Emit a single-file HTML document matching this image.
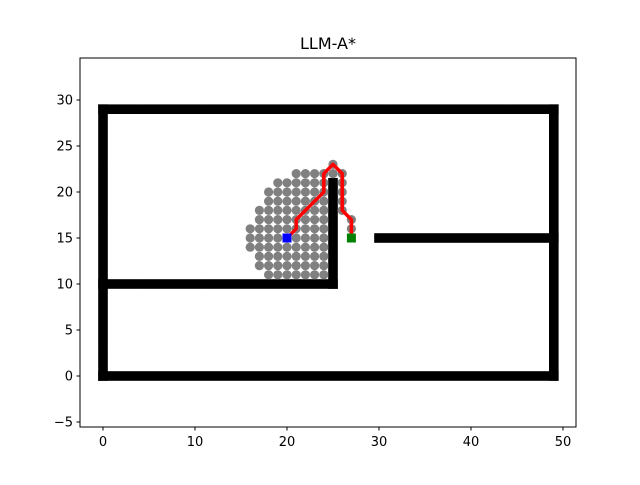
<!DOCTYPE html>
<html><head><meta charset="utf-8"><style>
body{margin:0;background:#fff;}
svg{font-family:"DejaVu Sans","Liberation Sans",sans-serif;}
</style></head><body>
<svg id="chart" width="640" height="480" viewBox="0 0 640 480">
<rect width="640" height="480" fill="#fff"/>
<text x="328" y="49" font-size="16" text-anchor="middle">LLM-A*</text>
<g id="plot"></g>
<rect x="80" y="58" width="496" height="369" fill="none" stroke="#000" stroke-width="1"/>
<g id="ticks"></g>
</svg>
<script>
const xTicks=[0,10,20,30,40,50];
const yTicks=[-5,0,5,10,15,20,25,30];
// visited rows: [y, xStart, xEnd]
const visitedRows=[[11,18,24],[12,17,24],[13,17,24],[14,16,24],[15,16,24],[16,16,24],[17,17,24],[18,17,24],[19,18,24],[20,18,24],[21,19,24],[22,21,24],[23,25,25]];
const visitedExtra=[[26,18],[26,19],[26,20],[26,21],[26,22],[25,22],[27,16],[27,17]];
// obstacle segments: [x1,y1,x2,y2]
const walls=[[0,0,49,0],[0,29,49,29],[0,0,0,29],[49,0,49,29],[0,10,25,10],[25,10,25,21],[30,15,49,15]];
const pathX=[20,21,21,22,23,24,24,25,26,26,27,27,27];
const pathY=[15,16,17,18,19,20,22,23,22,18,17,16,15];
const start=[20,15], goal=[27,15];
const sx=v=>103+9.2*v, sy=v=>376-9.2*v;
const NS="http://www.w3.org/2000/svg";
const plot=document.getElementById('plot'), tk=document.getElementById('ticks');
function mk(tag,attrs,parent){const e=document.createElementNS(NS,tag);for(const k in attrs)e.setAttribute(k,attrs[k]);parent.appendChild(e);return e;}
walls.forEach(w=>{
  const n=Math.max(Math.abs(w[2]-w[0]),Math.abs(w[3]-w[1]));
  for(let i=0;i<=n;i++){
    const x=w[0]+(w[2]-w[0])*(n?i/n:0), y=w[1]+(w[3]-w[1])*(n?i/n:0);
    const r=mk('rect',{x:sx(x)-4.8,y:sy(y)-4.8,width:9.6,height:9.6,fill:'#000'},plot);
    
    
  }
});
const pts=[];
visitedRows.forEach(r=>{for(let x=r[1];x<=r[2];x++)pts.push([x,r[0]]);});
visitedExtra.forEach(p=>pts.push(p));
pts.forEach(p=>{
  const c=mk('circle',{cx:sx(p[0]),cy:sy(p[1]),r:4.6,fill:'#808080'},plot);
  
  
});
const pl=mk('polyline',{points:pathX.map((x,i)=>sx(x)+','+sy(pathY[i])).join(' '),fill:'none',stroke:'#ff0000','stroke-width':3.5,'stroke-linejoin':'round'},plot);


const s=mk('rect',{x:sx(start[0])-4.5,y:sy(start[1])-4.5,width:9,height:9,fill:'#0000ff'},plot);


const g=mk('rect',{x:sx(goal[0])-4.5,y:sy(goal[1])-4.5,width:9,height:9,fill:'#008000'},plot);


xTicks.forEach(v=>{
  mk('line',{x1:sx(v),x2:sx(v),y1:427,y2:430.5,stroke:'#000'},tk);
  const t=mk('text',{x:sx(v),y:446,'font-size':13,'text-anchor':'middle'},tk);
  t.textContent=v;
  
  
});
yTicks.forEach(v=>{
  mk('line',{x1:76.5,x2:80,y1:sy(v),y2:sy(v),stroke:'#000'},tk);
  const t=mk('text',{x:73,y:sy(v)+4.5,'font-size':13,'text-anchor':'end'},tk);
  t.textContent=v<0?'\u2212'+Math.abs(v):v;
  
  
});
</script>
</body></html>
